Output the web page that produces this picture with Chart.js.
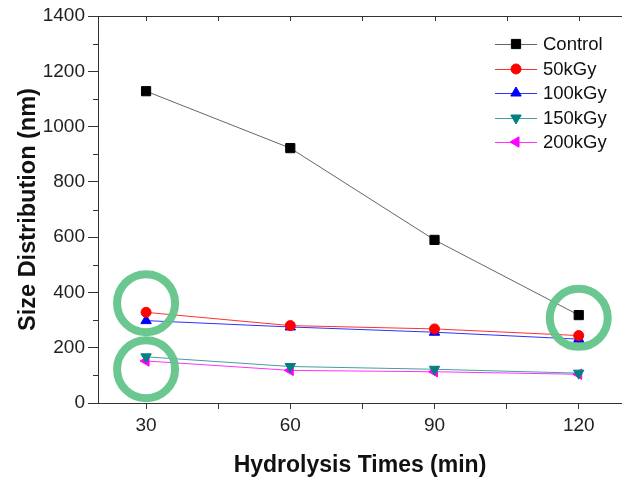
<!DOCTYPE html>
<html>
<head>
<meta charset="utf-8">
<script src="https://cdn.jsdelivr.net/npm/chart.js@4.4.0/dist/chart.umd.min.js"></script>
<style>
  html, body { margin: 0; padding: 0; background: #fff; overflow: hidden; }
  canvas { display: block; }
</style>
</head>
<body>
<canvas id="chart" width="622" height="479"></canvas>
<script>
// hydrolysis time (min)
const times = [30, 60, 90, 120];
const xTicks = [30, 45, 60, 75, 90, 105, 120];
const yTicks = [0, 200, 400, 600, 800, 1000, 1200, 1400];
const yMinorTicks = [100, 300, 500, 700, 900, 1100, 1300];

const control = [1128, 922, 590, 318];
const kGy50 = [328, 280, 268, 244];
const kGy100 = [298, 275, 256, 231];
const kGy150 = [167, 132, 122, 108];
const kGy200 = [152, 118, 113, 104];

// highlighted points (circled in the figure)
const circleX = [30, 30, 120];
const circleY = [361, 122, 308];

const seriesNames = ['Control', '50kGy', '100kGy', '150kGy', '200kGy'];

const FONT = '"Liberation Sans", Arial, sans-serif';
const AXIS = '#333';

function pts(vals) {
    return vals.map((v, i) => ({ x: times[i], y: v }));
}

// top frame line with inward ticks, and short minor ticks on the y axis
const frame = {
    id: 'frame',
    afterDraw(chart) {
        const { ctx, chartArea: a, scales } = chart;
        ctx.save();
        ctx.strokeStyle = AXIS;
        ctx.lineWidth = 1;
        ctx.beginPath();
        ctx.moveTo(a.left, a.top + 0.5);
        ctx.lineTo(a.right, a.top + 0.5);
        xTicks.forEach(v => {
            const px = Math.round(scales.x.getPixelForValue(v)) + 0.5;
            ctx.moveTo(px, a.top);
            ctx.lineTo(px, a.top + 5);
        });
        yMinorTicks.forEach(v => {
            const py = Math.round(scales.y.getPixelForValue(v)) + 0.5;
            ctx.moveTo(a.left - 5, py);
            ctx.lineTo(a.left, py);
        });
        ctx.stroke();
        ctx.restore();
    }
};

const circles = {
    id: 'circles',
    afterDatasetsDraw(chart) {
        const { ctx, scales } = chart;
        ctx.save();
        ctx.strokeStyle = 'rgba(98, 196, 138, 0.95)';
        ctx.lineWidth = 8;
        circleX.forEach((x, i) => {
            ctx.beginPath();
            ctx.arc(scales.x.getPixelForValue(x), scales.y.getPixelForValue(circleY[i]), 29, 0, Math.PI * 2);
            ctx.stroke();
        });
        ctx.restore();
    }
};

const lineLegend = {
    id: 'lineLegend',
    afterDraw(chart) {
        const { ctx } = chart;
        const x0 = 495, y0 = 44, gap = 24.5, len = 42;
        ctx.save();
        ctx.font = '18.5px ' + FONT;
        ctx.textBaseline = 'middle';
        chart.data.datasets.forEach((ds, i) => {
            const y = Math.round(y0 + i * gap);
            ctx.strokeStyle = ds.borderColor;
            ctx.lineWidth = 1;
            ctx.beginPath();
            ctx.moveTo(x0, y + 0.5);
            ctx.lineTo(x0 + len, y + 0.5);
            ctx.stroke();
            ctx.fillStyle = ds.pointBackgroundColor;
            ctx.strokeStyle = ds.pointBackgroundColor;
            Chart.helpers.drawPoint(ctx, {
                pointStyle: ds.pointStyle,
                rotation: ds.pointRotation || 0,
                radius: ds.pointRadius,
                borderWidth: 1
            }, x0 + len / 2, y);
            ctx.fillStyle = '#111';
            ctx.fillText(ds.label, x0 + len + 6, y + 1);
        });
        ctx.restore();
    }
};

function series(i, vals, line, mark, style, rot, r) {
    return {
        label: seriesNames[i],
        data: pts(vals),
        borderColor: line,
        borderWidth: 1,
        pointBackgroundColor: mark,
        pointBorderColor: mark,
        pointStyle: style,
        pointRotation: rot,
        pointRadius: r,
        pointBorderWidth: 1,
        tension: 0,
        clip: false
    };
}

new Chart(document.getElementById('chart'), {
    type: 'line',
    data: {
        datasets: [
            series(0, control, '#666666', '#000000', 'rect', 0, 6.5),
            series(1, kGy50, '#ff3030', '#ff0000', 'circle', 0, 5),
            series(2, kGy100, '#3030ff', '#0000ff', 'triangle', 0, 6),
            series(3, kGy150, '#40a0a0', '#008080', 'triangle', 180, 6),
            series(4, kGy200, '#ff30ff', '#ff00ff', 'triangle', 270, 6)
        ]
    },
    options: {
        responsive: false,
        animation: false,
        layout: { autoPadding: false, padding: { left: 0, top: 16, right: 0, bottom: 0 } },
        plugins: { legend: { display: false }, tooltip: { enabled: false } },
        scales: {
            x: {
                type: 'linear',
                min: 20,
                max: 129,
                afterBuildTicks: s => { s.ticks = xTicks.map(v => ({ value: v })); },
                afterFit: s => { s.height = 76; },
                ticks: {
                    callback: v => (v % 30 === 0 ? String(v) : ''),
                    font: { family: FONT, size: 19 },
                    color: '#222',
                    padding: 5,
                    maxRotation: 0
                },
                grid: { drawOnChartArea: false, tickLength: 6, color: AXIS },
                border: { display: true, color: AXIS, width: 1 },
                title: {
                    display: true,
                    text: 'Hydrolysis Times (min)',
                    font: { family: FONT, size: 23, weight: 'bold' },
                    color: '#111',
                    padding: { top: 10, bottom: 0 }
                }
            },
            y: {
                min: 0,
                max: 1400,
                afterBuildTicks: s => { s.ticks = yTicks.map(v => ({ value: v })); },
                afterFit: s => { s.width = 98; },
                ticks: {
                    callback: v => String(v),
                    font: { family: FONT, size: 19 },
                    color: '#222',
                    padding: 3
                },
                grid: { drawOnChartArea: false, tickLength: 10, color: AXIS },
                border: { display: true, color: AXIS, width: 1 },
                title: {
                    display: true,
                    text: 'Size Distribution (nm)',
                    font: { family: FONT, size: 23.5, weight: 'bold' },
                    color: '#111',
                    padding: { top: 14, bottom: 2 }
                }
            }
        }
    },
    plugins: [frame, circles, lineLegend]
});
</script>
</body>
</html>
